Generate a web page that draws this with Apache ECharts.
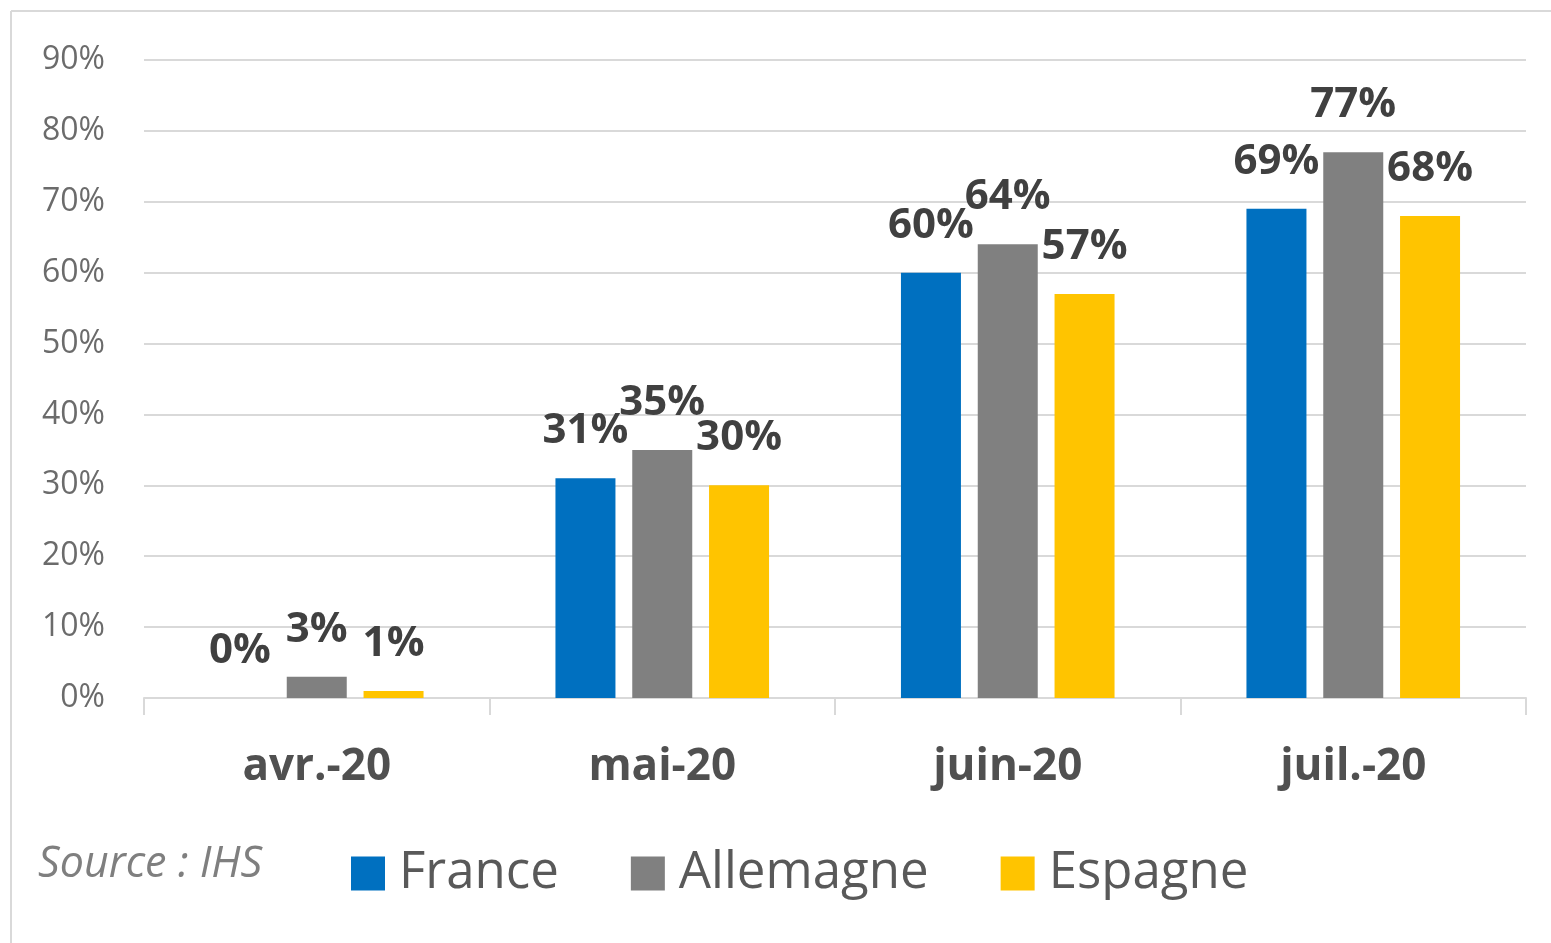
<!DOCTYPE html>
<html lang="fr">
<head>
    <meta charset="UTF-8">
    <title>Taux de reprise</title>
    <script src="https://cdn.jsdelivr.net/npm/echarts@6.0.0/dist/echarts.min.js"></script>
    <style>
        html, body {
            margin: 0;
            padding: 0;
            background: #fff;
        }

        #chart {
            width: 1551px;
            height: 943px;
        }
    </style>
</head>
<body>
    <div id="chart"></div>

<script>
// données
const months = ['avr.-20', 'mai-20', 'juin-20', 'juil.-20'];
const france = [0, 31, 60, 69];
const allemagne = [3, 35, 64, 77];
const espagne = [1, 30, 57, 68];
const yTicks = [0, 10, 20, 30, 40, 50, 60, 70, 80, 90];

const colors = {
    France: '#0070C0',
    Allemagne: '#808080',
    Espagne: '#FFC400'
};

function barSeries(name, values) {
    return {
        name: name,
        type: 'bar',
        data: values,
        barWidth: 60,
        barGap: '28%',
        itemStyle: { color: colors[name] },
        label: {
            show: true,
            position: 'top',
            distance: 26,
            formatter: '{c}%',
            fontFamily: 'Open Sans',
            fontWeight: 'bold',
            fontSize: 42,
            color: '#404040'
        }
    };
}

const chart = echarts.init(document.getElementById('chart'));

chart.setOption({
    animation: false,
    grid: {
        left: 144,
        right: 25,
        top: 60,
        bottom: 245
    },
    graphic: [
        // cadre fin en haut et à gauche
        { type: 'line', shape: { x1: 11, y1: 11, x2: 1551, y2: 11 },
          style: { stroke: '#d9d9d9', lineWidth: 2 } },
        { type: 'line', shape: { x1: 11, y1: 11, x2: 11, y2: 943 },
          style: { stroke: '#d9d9d9', lineWidth: 2 } },
        { type: 'text', left: 38, top: 843,
          style: {
              text: 'Source : IHS',
              fontFamily: 'Open Sans',
              fontStyle: 'italic',
              fontSize: 43,
              fill: '#7f7f7f'
          } }
    ],
    legend: {
        left: 346,
        top: 843,
        itemWidth: 34,
        itemHeight: 34,
        itemGap: 72,
        icon: 'rect',
        data: ['France', 'Allemagne', 'Espagne'],
        textStyle: {
            fontFamily: 'Open Sans',
            fontSize: 51,
            color: '#595959',
            padding: [0, 0, 0, 9]
        }
    },
    xAxis: {
        type: 'category',
        data: months,
        axisLine: { lineStyle: { color: '#d9d9d9', width: 2 } },
        axisTick: { show: true, length: 17, lineStyle: { color: '#d9d9d9', width: 2 } },
        axisLabel: {
            margin: 47,
            fontFamily: 'Open Sans',
            fontWeight: 'bold',
            fontSize: 44,
            color: '#505050'
        }
    },
    yAxis: {
        type: 'value',
        min: yTicks[0],
        max: yTicks[yTicks.length - 1],
        interval: 10,
        axisLine: { show: false },
        axisTick: { show: false },
        splitLine: { lineStyle: { color: '#d9d9d9', width: 2 } },
        axisLabel: {
            margin: 39,
            formatter: '{value}%',
            fontFamily: 'Open Sans',
            fontSize: 32,
            color: '#6b6b6b'
        }
    },
    series: [
        barSeries('France', france),
        barSeries('Allemagne', allemagne),
        barSeries('Espagne', espagne)
    ]
});
</script>
</body>
</html>
